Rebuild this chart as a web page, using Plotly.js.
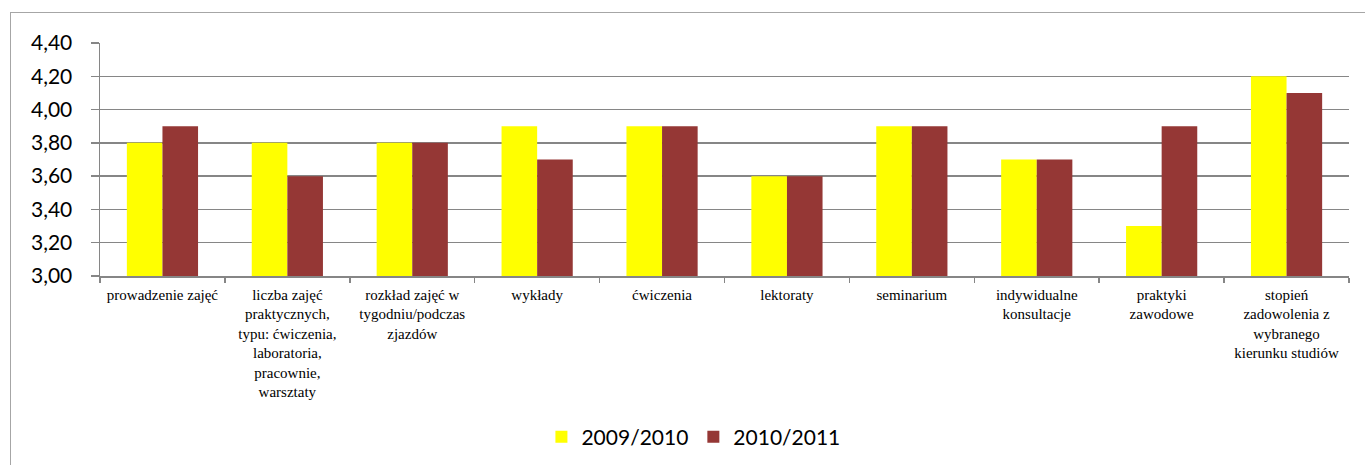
<!DOCTYPE html>
<html>
<head>
<meta charset="utf-8">
<script src="https://cdn.plot.ly/plotly-3.0.1.min.js"></script>
<style>
html,body{margin:0;padding:0;background:#fff;overflow:hidden;}
#chart{width:1365px;height:465px;}
#frame{position:absolute;left:10px;top:12px;width:1400px;height:500px;border:1px solid #a6a6a6;box-sizing:border-box;pointer-events:none;}
</style>
</head>
<body>
<div id="chart"></div>
<div id="frame"></div>
<script>
var categories = [
  "prowadzenie zajęć",
  "liczba zajęć<br>praktycznych,<br>typu: ćwiczenia,<br>laboratoria,<br>pracownie,<br>warsztaty",
  "rozkład zajęć w<br>tygodniu/podczas<br>zjazdów",
  "wykłady",
  "ćwiczenia",
  "lektoraty",
  "seminarium",
  "indywidualne<br>konsultacje",
  "praktyki<br>zawodowe",
  "stopień<br>zadowolenia z<br>wybranego<br>kierunku studiów"
];
var series2009 = [3.8, 3.8, 3.8, 3.9, 3.9, 3.6, 3.9, 3.7, 3.3, 4.2];
var series2010 = [3.9, 3.6, 3.8, 3.7, 3.9, 3.6, 3.9, 3.7, 3.9, 4.1];
var seriesNames = ["2009/2010", "2010/2011"];
var yTicks = [3.0, 3.2, 3.4, 3.6, 3.8, 4.0, 4.2, 4.4];

var traces = [
  {type: "bar", name: seriesNames[0], x: categories, y: series2009,
   marker: {color: "#FFFF00"}, hoverinfo: "y"},
  {type: "bar", name: seriesNames[1], x: categories, y: series2010,
   marker: {color: "#953735"}, hoverinfo: "y"}
];

var gridCol = "#868686";
var layout = {
  width: 1365, height: 465,
  margin: {l: 100, r: 16, t: 43, b: 189, autoexpand: false},
  paper_bgcolor: "#ffffff", plot_bgcolor: "#ffffff",
  separators: ", ",
  barmode: "group",
  bargap: 0.43,
  bargroupgap: 0,
  showlegend: true,
  legend: {orientation: "h", xref: "container", yref: "container",
           x: 0.508, xanchor: "center", y: 0.06, yanchor: "middle",
           font: {family: "Lato, Open Sans, sans-serif", size: 21, color: "#000"},
           itemclick: false, itemdoubleclick: false, traceorder: "normal"},
  xaxis: {
    type: "category",
    showline: true, linecolor: gridCol, linewidth: 1.5,
    ticks: "outside", tickson: "boundaries", ticklen: 5, tickcolor: gridCol, tickwidth: 1.5,
    ticklabelstandoff: 4,
    tickfont: {family: "Liberation Serif, Times New Roman, serif", size: 15, color: "#000"},
    tickangle: 0, showgrid: false, fixedrange: true, automargin: false
  },
  yaxis: {
    range: [3.0, 4.4],
    tickvals: yTicks, tickformat: ".2f",
    showline: true, linecolor: gridCol, linewidth: 1.5,
    ticks: "outside", ticklen: 8, tickcolor: gridCol, tickwidth: 1.5,
    showgrid: true, gridcolor: gridCol, gridwidth: 1.3,
    zeroline: false,
    ticklabelstandoff: 14,
    tickfont: {family: "Lato, Open Sans, sans-serif", size: 21, color: "#000"},
    fixedrange: true, automargin: false
  }
};

Plotly.newPlot("chart", traces, layout, {displayModeBar: false, staticPlot: true});
</script>
</body>
</html>
